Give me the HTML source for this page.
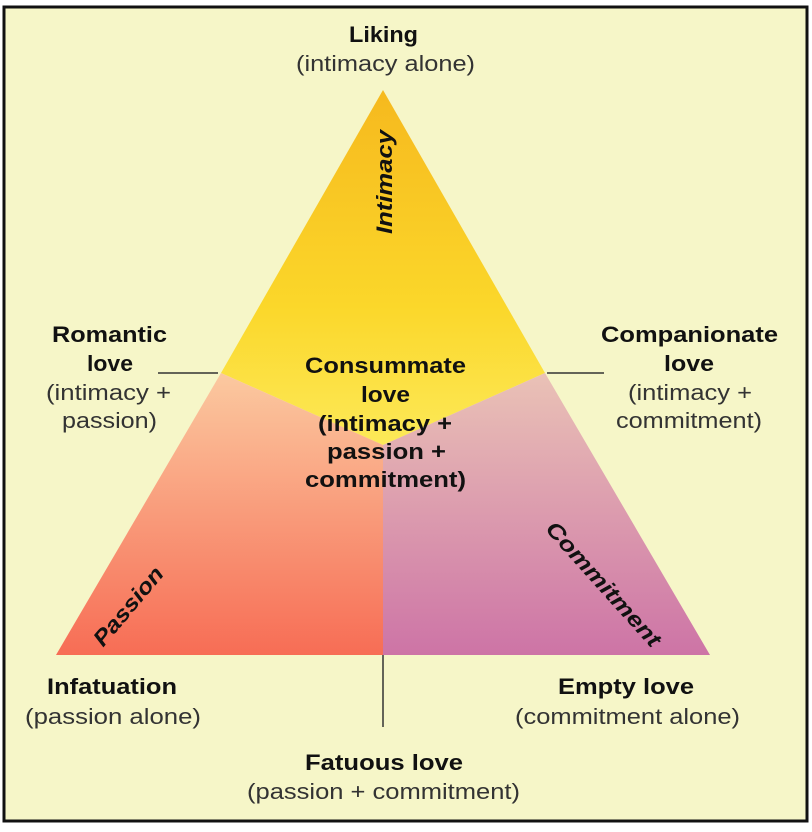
<!DOCTYPE html>
<html><head><meta charset="utf-8"><style>
html,body{margin:0;padding:0;background:#fff;}
svg{display:block;}
text{font-family:"Liberation Sans",Arial,sans-serif;fill:#111;}
.b{font-weight:bold;font-size:22px;}
.n{font-size:22px;fill:#333;}
</style></head><body>
<svg width="812" height="832" viewBox="0 0 812 832">
<defs>
<linearGradient id="gy" x1="0" y1="90" x2="0" y2="450" gradientUnits="userSpaceOnUse">
<stop offset="0" stop-color="#f6b91e"/><stop offset="0.6" stop-color="#fbd72a"/><stop offset="1" stop-color="#fcea5a"/>
</linearGradient>
<linearGradient id="gp" x1="0" y1="373" x2="0" y2="655" gradientUnits="userSpaceOnUse">
<stop offset="0" stop-color="#fbc9a0"/><stop offset="1" stop-color="#f76d55"/>
</linearGradient>
<linearGradient id="gc" x1="0" y1="373" x2="0" y2="655" gradientUnits="userSpaceOnUse">
<stop offset="0" stop-color="#eac2b6"/><stop offset="1" stop-color="#cd74a6"/>
</linearGradient>
</defs>
<rect x="4" y="7" width="803" height="814" fill="#f6f6c8" stroke="#111" stroke-width="3"/>
<polygon points="383,90 221,373 383,445 545,373" fill="url(#gy)"/>
<polygon points="221,373 383,445 383,655 56,655" fill="url(#gp)"/>
<polygon points="545,373 383,445 383,655 710,655" fill="url(#gc)"/>
<line x1="158" y1="373" x2="218" y2="373" stroke="#333" stroke-width="1.5"/>
<line x1="547" y1="373" x2="604" y2="373" stroke="#333" stroke-width="1.5"/>
<line x1="383" y1="655" x2="383" y2="727" stroke="#333" stroke-width="1.5"/>

<text class="b" x="349" y="42" textLength="69" lengthAdjust="spacingAndGlyphs">Liking</text>
<text class="n" x="296" y="71" textLength="179" lengthAdjust="spacingAndGlyphs">(intimacy alone)</text>

<text class="b" x="52" y="342" textLength="115" lengthAdjust="spacingAndGlyphs">Romantic</text>
<text class="b" x="87" y="371" textLength="46" lengthAdjust="spacingAndGlyphs">love</text>
<text class="n" x="46" y="400" textLength="125" lengthAdjust="spacingAndGlyphs">(intimacy +</text>
<text class="n" x="62" y="428" textLength="95" lengthAdjust="spacingAndGlyphs">passion)</text>

<text class="b" x="601" y="342" textLength="177" lengthAdjust="spacingAndGlyphs">Companionate</text>
<text class="b" x="664" y="371" textLength="50" lengthAdjust="spacingAndGlyphs">love</text>
<text class="n" x="628" y="400" textLength="124" lengthAdjust="spacingAndGlyphs">(intimacy +</text>
<text class="n" x="616" y="428" textLength="146" lengthAdjust="spacingAndGlyphs">commitment)</text>

<text class="b" x="305" y="373" textLength="161" lengthAdjust="spacingAndGlyphs">Consummate</text>
<text class="b" x="361" y="402" textLength="49" lengthAdjust="spacingAndGlyphs">love</text>
<text class="b" x="318" y="431" textLength="134" lengthAdjust="spacingAndGlyphs">(intimacy +</text>
<text class="b" x="327" y="459" textLength="119" lengthAdjust="spacingAndGlyphs">passion +</text>
<text class="b" x="305" y="487" textLength="161" lengthAdjust="spacingAndGlyphs">commitment)</text>

<text class="b" x="47" y="694" textLength="130" lengthAdjust="spacingAndGlyphs">Infatuation</text>
<text class="n" x="25" y="724" textLength="176" lengthAdjust="spacingAndGlyphs">(passion alone)</text>
<text class="b" x="558" y="694" textLength="136" lengthAdjust="spacingAndGlyphs">Empty love</text>
<text class="n" x="515" y="724" textLength="225" lengthAdjust="spacingAndGlyphs">(commitment alone)</text>
<text class="b" x="305" y="770" textLength="158" lengthAdjust="spacingAndGlyphs">Fatuous love</text>
<text class="n" x="247" y="799" textLength="273" lengthAdjust="spacingAndGlyphs">(passion + commitment)</text>

<text class="b" font-style="italic" transform="translate(392,182) rotate(-90)" text-anchor="middle" textLength="104" lengthAdjust="spacingAndGlyphs">Intimacy</text>
<text class="b" font-style="italic" transform="translate(134,611) rotate(-50)" text-anchor="middle" textLength="96" lengthAdjust="spacingAndGlyphs">Passion</text>
<text class="b" font-style="italic" transform="translate(598,589) rotate(48)" text-anchor="middle" textLength="160" lengthAdjust="spacingAndGlyphs">Commitment</text>
</svg>
</body></html>
